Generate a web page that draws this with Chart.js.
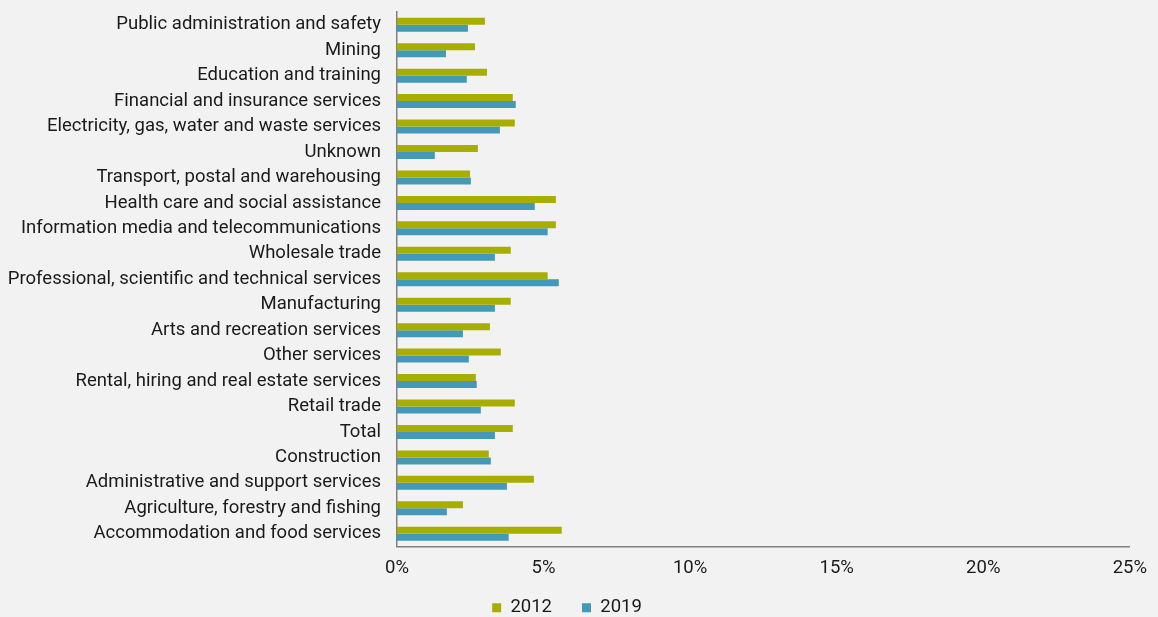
<!DOCTYPE html>
<html>
<head>
<meta charset="utf-8">
<script src="https://cdn.jsdelivr.net/npm/chart.js@4/dist/chart.umd.min.js"></script>
<style>
  html, body { margin: 0; padding: 0; background: #f2f2f2; }
  #wrap { width: 1158px; height: 617px; position: relative; }
</style>
</head>
<body>
<div id="wrap"><canvas id="c"></canvas></div>
<script>
const industries = [
  'Public administration and safety',
  'Mining',
  'Education and training',
  'Financial and insurance services',
  'Electricity, gas, water and waste services',
  'Unknown',
  'Transport, postal and warehousing',
  'Health care and social assistance',
  'Information media and telecommunications',
  'Wholesale trade',
  'Professional, scientific and technical services',
  'Manufacturing',
  'Arts and recreation services',
  'Other services',
  'Rental, hiring and real estate services',
  'Retail trade',
  'Total',
  'Construction',
  'Administrative and support services',
  'Agriculture, forestry and fishing',
  'Accommodation and food services'
];
const share2012 = [3.0, 2.66, 3.07, 3.95, 4.02, 2.76, 2.49, 5.42, 5.42, 3.88, 5.14, 3.88, 3.17, 3.54, 2.69, 4.02, 3.95, 3.13, 4.67, 2.25, 5.62];
const share2019 = [2.42, 1.67, 2.38, 4.05, 3.51, 1.29, 2.52, 4.70, 5.14, 3.34, 5.52, 3.34, 2.25, 2.45, 2.72, 2.86, 3.34, 3.20, 3.75, 1.70, 3.81];
const xTicks = [0, 5, 10, 15, 20, 25];

const font = 'Roboto, "Open Sans", sans-serif';
const fontSize = 18.5;

new Chart(document.getElementById('c'), {
  type: 'bar',
  data: {
    labels: industries,
    datasets: [
      { label: '2012', data: share2012, backgroundColor: '#a8ae00' },
      { label: '2019', data: share2019, backgroundColor: '#4299b8' }
    ]
  },
  options: {
    indexAxis: 'y',
    responsive: true, maintainAspectRatio: false, animation: false,
    layout: { padding: { top: 12, right: 24, bottom: -10, left: 0 } },
    datasets: { bar: { barPercentage: 1, categoryPercentage: 0.55 } },
    plugins: {
      legend: {
        position: 'bottom',
        labels: { boxWidth: 9, boxHeight: 9, padding: 30, color: '#1a1a1a', font: { family: font, size: fontSize } }
      },
      tooltip: { enabled: false }
    },
    scales: {
      x: {
        min: 0, max: 25,
        afterBuildTicks: s => { s.ticks = xTicks.map(v => ({ value: v })); },
        afterFit: s => { s.height = 22; },
        // labels sit lower than the squeezed axis box, so don't clip them
        afterUpdate: s => { s._computeLabelArea = () => undefined; },
        grid: { display: false, drawTicks: false },
        border: { color: '#808080', width: 1.5 },
        ticks: { padding: 11, color: '#1a1a1a', font: { family: font, size: fontSize }, callback: v => v + '%' }
      },
      y: {
        afterFit: s => { s.width = 397; s.paddingTop = 0; s.paddingBottom = 0; },
        grid: { display: false, drawTicks: false },
        border: { color: '#808080', width: 1.5 },
        ticks: { padding: 16, color: '#1a1a1a', font: { family: font, size: fontSize }, autoSkip: false }
      }
    }
  }
});
</script>
</body>
</html>
